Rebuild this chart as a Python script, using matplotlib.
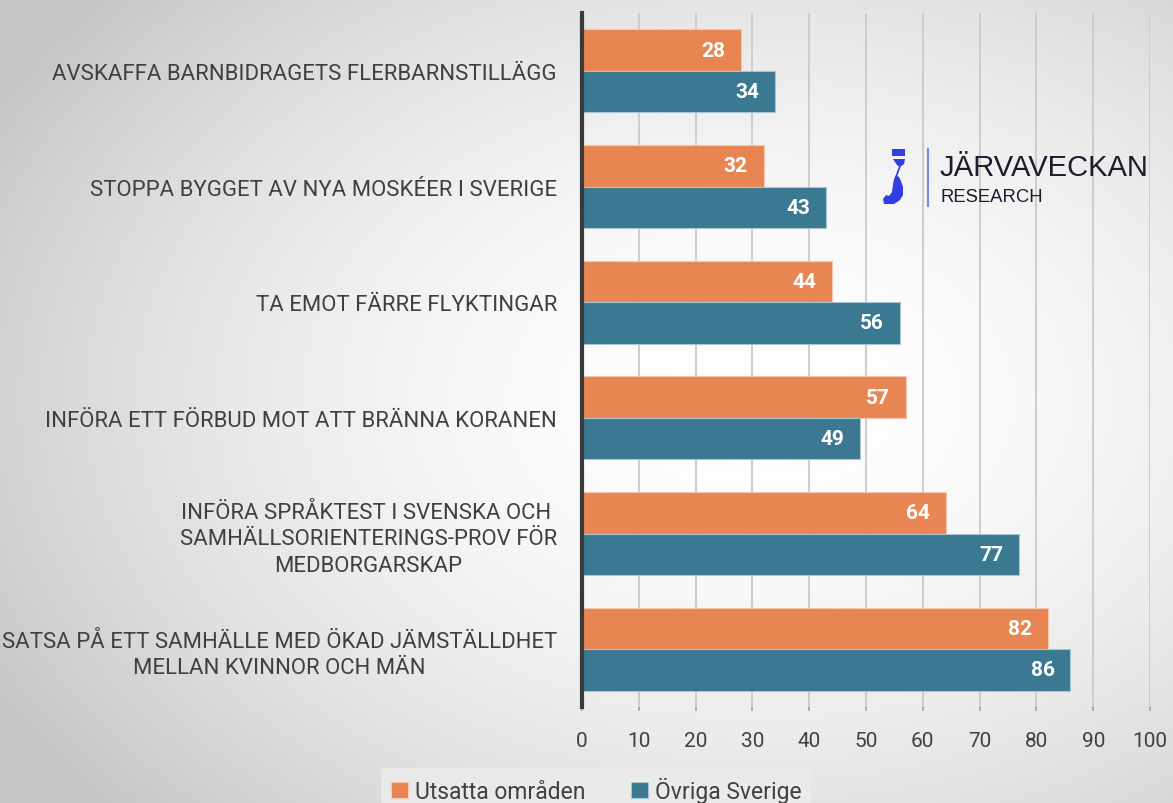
import numpy as np
import matplotlib
matplotlib.use("Agg")
import matplotlib.pyplot as plt
from matplotlib.patches import Polygon
from matplotlib.lines import Line2D

categories = [
    "AVSKAFFA BARNBIDRAGETS FLERBARNSTILLÄGG",
    "STOPPA BYGGET AV NYA MOSKÉER I SVERIGE",
    "TA EMOT FÄRRE FLYKTINGAR",
    "INFÖRA ETT FÖRBUD MOT ATT BRÄNNA KORANEN",
    "INFÖRA SPRÅKTEST I SVENSKA OCH \nSAMHÄLLSORIENTERINGS-PROV FÖR\nMEDBORGARSKAP",
    "SATSA PÅ ETT SAMHÄLLE MED ÖKAD JÄMSTÄLLDHET\nMELLAN KVINNOR OCH MÄN",
]
utsatta = [28, 32, 44, 57, 64, 82]
ovriga = [34, 43, 56, 49, 77, 86]
series_names = ["Utsatta områden", "Övriga Sverige"]
xticks = [0, 10, 20, 30, 40, 50, 60, 70, 80, 90, 100]

ORANGE = "#E8834E"
BLUE = "#35748F"
TXT = "#404040"
FONT = ["Roboto", "DejaVu Sans"]
plt.rcParams['font.family'] = FONT

W, H = 1173, 804
fig = plt.figure(figsize=(W / 100, H / 100), dpi=100)

# background radial gradient
bg = fig.add_axes([0, 0, 1, 1], zorder=-10)
yy, xx = np.mgrid[0:H, 0:W]
cx, cy = 760, 400
d = np.sqrt(((xx - cx) / 800.0) ** 2 + ((yy - cy) / 560.0) ** 2)
v = 1.0 - 0.19 * d ** 1.8
v = np.clip(v, 0.78, 1.0)
bg.imshow(np.dstack([v, v, v]), extent=[0, 1, 0, 1], aspect='auto', interpolation='bilinear')
bg.axis('off')

ax = fig.add_axes([582 / W, 1 - 708 / H, (1150 - 582) / W, (708 - 14) / H])
ax.patch.set_alpha(0)

n = len(categories)
y = np.arange(n)
h = 0.36
b1 = ax.barh(y - h / 2, utsatta, height=h, color=ORANGE, alpha=0.97,
             edgecolor="#f6c9ae", linewidth=0.8, zorder=3, label=series_names[0])
b2 = ax.barh(y + h / 2, ovriga, height=h, color=BLUE, alpha=0.97,
             edgecolor="#a9c7d3", linewidth=0.8, zorder=3, label=series_names[1])

for bars in (b1, b2):
    for rect in bars:
        w = rect.get_width()
        ax.annotate(f"{w:g}", (w, rect.get_y() + rect.get_height() / 2),
                    xytext=(-11.5, 0), textcoords="offset points",
                    ha="right", va="center", color="white",
                    fontsize=15, fontweight="bold", zorder=5)

ax.set_xlim(0, 100)
ax.set_ylim(n - 0.5, -0.5)
ax.set_xticks(xticks)
ax.set_xticklabels([str(t) for t in xticks], fontsize=15, color=TXT)
ax.tick_params(axis='x', length=3, color="#a0a0a0", pad=14, width=1.2)
ax.set_yticks(y)
ax.set_yticklabels(categories, fontsize=15.9, color=TXT, multialignment='center',
                   linespacing=1.35)
ax.tick_params(axis='y', length=0, pad=18)
ax.grid(axis='x', color="#cacaca", linewidth=1.3, zorder=0)
for s in ["top", "right", "bottom"]:
    ax.spines[s].set_visible(False)
ax.spines["left"].set_color("#3a3a3a")
ax.spines["left"].set_linewidth(3)
ax.spines["left"].set_zorder(6)

# legend
leg = fig.legend(handles=[b1, b2], labels=series_names, loc="center",
                 bbox_to_anchor=(596 / W, 1 - 791 / H), ncol=2, frameon=True,
                 fontsize=16.5, handlelength=0.75, handleheight=0.75, handletextpad=0.3,
                 columnspacing=2.0, borderpad=0.4)
leg.get_frame().set_facecolor("#ebebeb")
leg.get_frame().set_edgecolor("none")
leg.get_frame().set_alpha(0.9)
leg.get_frame().set_boxstyle("square", pad=0.0)
for t in leg.get_texts():
    t.set_color(TXT)

# logo
def fx(px):
    return px / W

def fy(py):
    return 1 - py / H

LOGO = "#2f3fe0"
def poly(pts):
    fig.patches.append(Polygon([(fx(a), fy(b)) for a, b in pts], closed=True,
                               transform=fig.transFigure, color=LOGO, zorder=20, lw=0))

poly([(892, 150), (905, 150), (905, 157), (892, 157)])
poly([(893, 160), (905, 160), (904, 165), (900, 168), (897, 166)])
fig.lines.append(Line2D([fx(900), fx(896)], [fy(167), fy(178)], transform=fig.transFigure,
                        color=LOGO, linewidth=1.2, zorder=20))
poly([(896, 176), (899, 178), (901, 182), (903, 188), (903, 196), (900, 201), (894, 205),
      (884, 205), (883, 200), (886, 196), (889, 197), (892, 193), (893, 186), (894, 180)])
fig.lines.append(Line2D([fx(928), fx(928)], [fy(150), fy(207)], transform=fig.transFigure,
                        color="#7a86e8", linewidth=1.5, zorder=20))
fig.text(fx(940), fy(168), "JÄRVAVECKAN", fontsize=21, color="#1b1d2e",
         family=["Liberation Sans", "DejaVu Sans"], va="center", ha="left", zorder=20)
fig.text(fx(941), fy(197), "RESEARCH", fontsize=13.3, color="#1b1d2e",
         family=["Liberation Sans", "DejaVu Sans"], va="center", ha="left", zorder=20)

fig.savefig("out.png", dpi=100)
